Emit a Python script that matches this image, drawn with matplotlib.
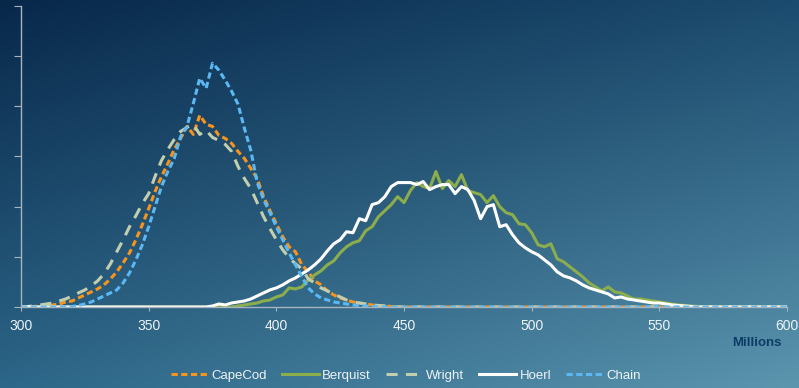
import numpy as np
import matplotlib
matplotlib.use("Agg")
import matplotlib.pyplot as plt

plt.rcParams["font.family"] = ["Liberation Sans", "DejaVu Sans"]
plt.rcParams["lines.scale_dashes"] = False

# x grid (millions), step 2.5 from 300 to 600
x = np.arange(300, 600.01, 2.5)

capecod = [0, 0, 0.5, 1, 1, 2, 3, 5, 6, 9, 12, 15, 18, 22, 28, 35, 44, 54, 67, 82,
           98, 115, 130, 143, 157, 168, 180, 172, 191, 182, 180, 171, 168, 163, 155, 148, 138, 128, 110, 96,
           83, 70, 60, 55, 42, 35, 26, 22, 16, 12, 9, 7, 5, 4, 3, 2, 1.5, 1, 0.5, 0.3,
           0, 0, 0, 0, 0, 0, 0, 0, 0, 0, 0, 0, 0, 0, 0, 0, 0, 0, 0, 0,
           0, 0, 0, 0, 0, 0, 0, 0, 0, 0, 0, 0, 0, 0, 0, 0, 0, 0, 0, 0,
           0, 0, 0, 0, 0, 0, 0, 0, 0, 0, 0, 0, 0, 0, 0, 0, 0, 0, 0, 0, 0]

berquist = [0, 0, 0, 0, 0, 0, 0, 0, 0, 0, 0, 0, 0, 0, 0, 0, 0, 0, 0, 0,
            0, 0, 0, 0, 0, 0, 0, 0, 0, 0, 0, 0, 0, 0, 1, 2, 3, 4, 6, 7,
            10, 12, 19, 18, 20, 27, 32, 36, 42, 46, 54, 60, 64, 66, 76, 80, 90, 96, 102, 110,
            104, 116, 124, 120, 118, 135, 118, 126, 120, 132, 116, 114, 112, 104, 111, 100, 94, 92, 83, 82,
            74, 62, 60, 63, 48, 45, 40, 35, 30, 24, 20, 16, 20, 15, 14, 11, 8, 8, 7, 6,
            5, 4, 3, 2, 1.5, 1, 0.5, 0, 0, 0, 0, 0, 0, 0, 0, 0, 0, 0, 0, 0, 0]

wright = [0, 0.5, 1, 2, 3, 4, 6, 8, 11, 14, 17, 21, 26, 33, 43, 55, 67, 80, 91, 103,
          113, 130, 146, 157, 167, 175, 179, 182, 172, 176, 169, 166, 162, 155, 140, 128, 118, 104, 90, 78,
          67, 57, 49, 43, 38, 28, 24, 19, 16, 13, 10, 7, 5, 4, 3, 2, 1.5, 1, 0.5, 0,
          0, 0, 0, 0, 0, 0, 0, 0, 0, 0, 0, 0, 0, 0, 0, 0, 0, 0, 0, 0,
          0, 0, 0, 0, 0, 0, 0, 0, 0, 0, 0, 0, 0, 0, 0, 0, 0, 0, 0, 0,
          0, 0, 0, 0, 0, 0, 0, 0, 0, 0, 0, 0, 0, 0, 0, 0, 0, 0, 0, 0, 0]

hoerl = [0, 0, 0, 0, 0, 0, 0, 0, 0, 0, 0, 0, 0, 0, 0, 0, 0, 0, 0, 0,
         0, 0, 0, 0, 0, 0, 0, 0, 0, 0, 1, 3, 2, 4, 5, 6, 8, 11, 14, 17,
         19, 22, 26, 29, 33, 37, 42, 48, 56, 63, 67, 75, 74, 88, 86, 102, 104, 110, 120, 124,
         124, 124, 122, 125, 117, 120, 122, 122, 113, 120, 117, 106, 88, 100, 102, 80, 82, 72, 64, 59,
         55, 52, 47, 42, 35, 31, 29, 26, 22, 19, 17, 15, 13, 9, 10, 8, 7, 6, 5, 4,
         4, 3, 2, 1.5, 1, 0.5, 0, 0, 0, 0, 0, 0, 0, 0, 0, 0, 0, 0, 0, 0, 0]

chain = [0, 0, 0, 0, 0, 0, 0, 0, 0.5, 1.5, 3, 5, 8, 11, 14, 17, 24, 34, 47, 62,
         80, 100, 120, 135, 148, 170, 180, 203, 228, 218, 243, 236, 226, 215, 202, 178, 156, 124, 107, 94,
         80, 67, 54, 42, 30, 19, 13, 9, 7, 5, 4, 3, 2, 1.5, 1, 0.5, 0.3, 0, 0, 0,
         0, 0, 0, 0, 0, 0, 0, 0, 0, 0, 0, 0, 0, 0, 0, 0, 0, 0, 0, 0,
         0, 0, 0, 0, 0, 0, 0, 0, 0, 0, 0, 0, 0, 0, 0, 0, 0, 0, 0, 0,
         0, 0, 0, 0, 0, 0, 0, 0, 0, 0, 0, 0, 0, 0, 0, 0, 0, 0, 0, 0, 0]

xticks = [300, 350, 400, 450, 500, 550, 600]

fig = plt.figure(figsize=(7.99, 3.88), dpi=100)

# diagonal background gradient
bg = fig.add_axes([0, 0, 1, 1], zorder=-1)
bg.axis("off")
tl, tr, bl, br = (np.array(matplotlib.colors.to_rgb(c)) for c in
                  ("#08284a", "#1b4b6e", "#2c6688", "#5b95ae"))
u = np.linspace(0, 1, 200)[None, :, None]
v = np.linspace(0, 1, 100)[:, None, None]
img = (1 - v) * ((1 - u) * tl + u * tr) + v * ((1 - u) * bl + u * br)
bg.imshow(img, aspect="auto", extent=[0, 1, 0, 1], interpolation="bilinear")

ax = fig.add_axes([0.0263, 0.2088, 0.9587, 0.7757])
ax.patch.set_alpha(0)

lw = 2.2
ax.plot(x, capecod, color="#f7941d", lw=lw, dashes=(4.5, 2.5), label="CapeCod")
ax.plot(x, berquist, color="#8cad4b", lw=lw, label="Berquist")
ax.plot(x, wright, color="#c2cfae", lw=lw, dashes=(8, 6), label="Wright")
ax.plot(x, hoerl, color="white", lw=lw, label="Hoerl")
ax.plot(x, chain, color="#5cb8f2", lw=lw, dashes=(4.5, 2.5), label="Chain")

ax.set_xlim(300, 600)
ax.set_ylim(0, 300)
ax.set_xticks(xticks)
ax.set_yticks(np.arange(0, 301, 50))
ax.set_yticklabels([])
for s in ("top", "right"):
    ax.spines[s].set_visible(False)
for s in ("left", "bottom"):
    ax.spines[s].set_color("#a7b4c0")
    ax.spines[s].set_linewidth(1)
ax.tick_params(axis="x", colors="#a7b4c0", labelcolor="#eef3f6", labelsize=10, length=3, pad=6)
ax.tick_params(axis="y", colors="#a7b4c0", length=5)

fig.text(0.947, 0.116, "Millions", color="#0d3b66", fontsize=9.5, fontweight="bold",
         ha="center", va="center")

fig.legend(loc="center", bbox_to_anchor=(0.508, 0.031), ncol=5, frameon=False,
           fontsize=9.5, labelcolor="#eef3f6", handlelength=2.8, handletextpad=0.25,
           columnspacing=1.15)

fig.savefig("out.png", dpi=100)
